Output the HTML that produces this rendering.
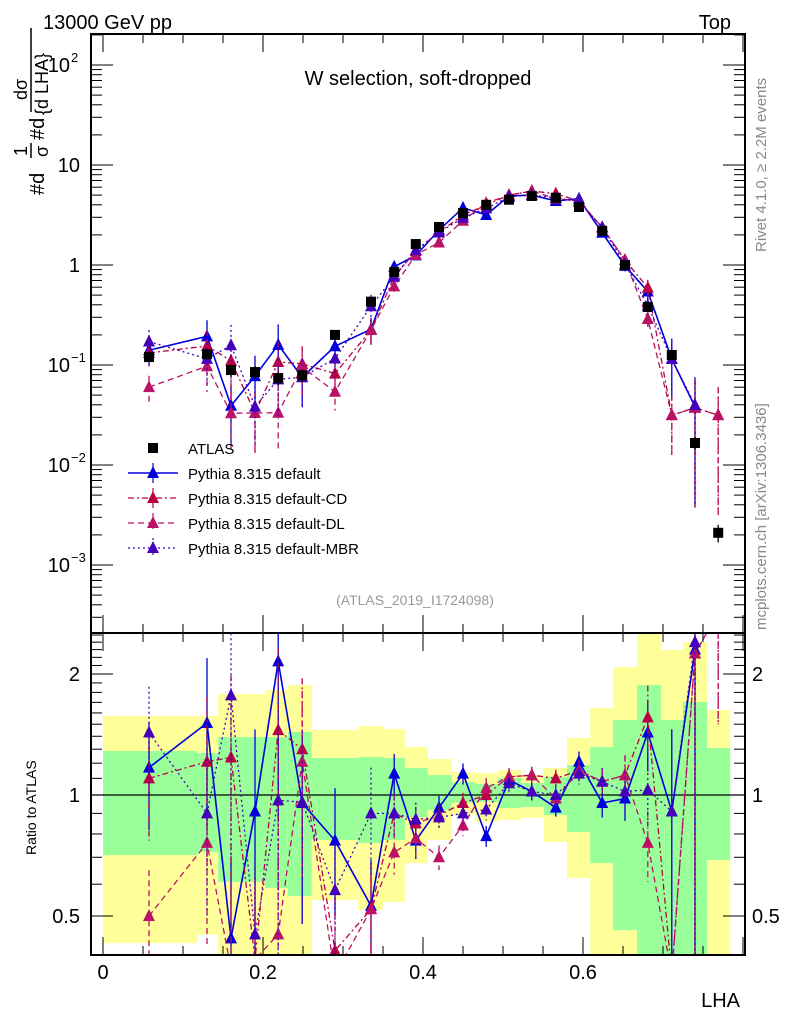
<!DOCTYPE html>
<html><head><meta charset="utf-8"><style>
html,body{margin:0;padding:0;background:#fff;width:786px;height:1024px;overflow:hidden}
svg{display:block;font-family:"Liberation Sans",sans-serif}
</style></head><body>
<svg id="chart" width="786" height="1024" viewBox="0 0 786 1024">
<g id="bands"></g>
<g id="ratio"></g>
<g id="main"></g>
<g id="axes"></g>
<text x="43" y="29" font-size="20">13000 GeV pp</text>
<text x="731" y="29" font-size="20" text-anchor="end">Top</text>
<text x="418" y="85" font-size="20" text-anchor="middle">W selection, soft-dropped</text>
<text x="415" y="605" font-size="14" fill="#999" text-anchor="middle">(ATLAS_2019_I1724098)</text>
<text transform="translate(766,252) rotate(-90)" font-size="15" fill="#888">Rivet 4.1.0, ≥ 2.2M events</text>
<text transform="translate(766,630) rotate(-90)" font-size="15" fill="#888">mcplots.cern.ch [arXiv:1306.3436]</text>
<g font-size="20">
<text transform="translate(44,195) rotate(-90)">#d</text>
<text transform="translate(27,156) rotate(-90)" font-size="18">1</text>
<line x1="31" y1="158" x2="31" y2="143" stroke="#000" stroke-width="1.5"/>
<text transform="translate(48,157) rotate(-90)" font-size="18">σ</text>
<text transform="translate(44,140) rotate(-90)">#d</text>
<text transform="translate(27,100) rotate(-90)" font-size="18">dσ</text>
<line x1="31" y1="112" x2="31" y2="28" stroke="#000" stroke-width="1.5"/>
<text transform="translate(48,115) rotate(-90)" font-size="18">{d LHA}</text>
</g>
<text transform="translate(36,855) rotate(-90)" font-size="14">Ratio to ATLAS</text>
<text x="740" y="1007" font-size="20" text-anchor="end">LHA</text>
<g id="legend"></g>
</svg>
<script>
const lha = [0.0575,0.13,0.16,0.19,0.219,0.249,0.29,0.335,0.364,0.391,0.42,0.45,0.479,0.5075,0.536,0.566,0.595,0.624,0.6525,0.681,0.711,0.74,0.769];
const atlas = [0.12,0.128,0.089,0.085,0.074,0.079,0.2,0.43,0.85,1.62,2.4,3.3,4.0,4.5,4.9,4.7,3.8,2.2,1.0,0.38,0.126,0.0166,0.0021];
const ratioDefault = [1.17,1.51,0.44,0.91,2.15,0.955,0.77,0.53,1.13,0.77,0.93,1.13,0.79,1.09,1.02,0.93,1.21,0.955,0.98,1.43,0.91,2.3,null];
const ratioCD = [1.10,1.21,1.24,0.39,1.45,1.3,0.41,0.52,0.9,0.85,0.89,0.955,1.0,1.11,1.12,1.1,1.15,1.08,1.12,1.56,0.25,2.25,15];
const ratioDL = [0.5,0.76,0.37,0.39,0.45,1.21,0.27,0.52,0.72,0.78,0.70,0.84,1.04,1.11,1.12,0.98,1.15,1.08,1.12,0.76,0.25,2.25,15];
const ratioMBR = [1.43,0.90,1.77,0.45,0.97,0.96,0.58,0.90,0.9,0.87,0.88,0.9,0.92,1.07,1.02,1.0,1.13,1.08,1.02,1.03,0.91,2.4,null];
const relErrMC = [0.3,0.45,0.6,0.6,0.6,0.5,0.35,0.3,0.12,0.1,0.07,0.06,0.06,0.05,0.05,0.05,0.06,0.08,0.12,0.2,0.6,0.9,0.9];
const atlasErr = [0.1,0.1,0.15,0.15,0.15,0.15,0.08,0.06,0.05,0.04,0.03,0.03,0.03,0.02,0.02,0.02,0.03,0.04,0.05,0.07,0.1,0.15,0.2];
const binEdges = [0,0.1175,0.144,0.2025,0.231,0.261,0.319,0.35,0.3775,0.406,0.436,0.465,0.494,0.5225,0.551,0.58,0.609,0.6375,0.6675,0.6975,0.725,0.755,0.784];
const yellowHi = [1.572,1.572,1.783,1.824,1.877,1.451,1.484,1.459,1.316,1.229,1.141,1.134,1.154,1.121,1.167,1.386,1.646,2.08,2.52,2.295,2.402,1.627];
const greenHi = [1.287,1.272,1.394,1.394,1.435,1.236,1.243,1.236,1.167,1.121,1.077,1.065,1.102,1.071,1.109,1.187,1.316,1.537,1.877,1.537,1.704,1.309];
const greenLo = [0.709,0.721,0.608,0.587,0.561,0.773,0.760,0.773,0.882,0.918,0.955,0.961,0.928,0.934,0.892,0.809,0.677,0.461,0.4,0.4,0.4,0.689];
const yellowLo = [0.428,0.449,0.4,0.4,0.4,0.548,0.518,0.542,0.677,0.773,0.892,0.857,0.867,0.877,0.764,0.622,0.4,0.4,0.4,0.4,0.4,0.4];
const xTicks = [0,0.2,0.4,0.6];
const xTickLabels = ["0","0.2","0.4","0.6"];
const ratioTicks = [0.5,1,2];
const ratioTickLabels = ["0.5","1","2"];

const NS="http://www.w3.org/2000/svg";
const L=91,R=745,T=34,MB=633,B=955;
const xs=v=>103+800*v;
const ymRaw=v=>265-100*Math.log10(v);
const yrRaw=v=>795-402*Math.log10(v);
const clamp=(y,a,b)=>Math.min(b,Math.max(a,y));
const ym=v=>clamp(ymRaw(v),T-20,MB+20);
const yr=v=>clamp(yrRaw(v),MB-20,B+20);
function mk(tag,attrs,parent){const e=document.createElementNS(NS,tag);for(const k in attrs)e.setAttribute(k,attrs[k]);parent.appendChild(e);return e;}
const bands=document.getElementById('bands'),ratioG=document.getElementById('ratio'),mainG=document.getElementById('main'),axes=document.getElementById('axes'),leg=document.getElementById('legend');
const clipD=mk('defs',{},document.getElementById('chart'));
const c1=mk('clipPath',{id:'cm'},clipD);mk('rect',{x:L,y:T,width:R-L,height:MB-T},c1);
const c2=mk('clipPath',{id:'cr'},clipD);mk('rect',{x:L,y:MB,width:R-L,height:B-MB},c2);
bands.setAttribute('clip-path','url(#cr)');ratioG.setAttribute('clip-path','url(#cr)');mainG.setAttribute('clip-path','url(#cm)');
for(let i=0;i<yellowHi.length;i++){
  const x0=xs(binEdges[i]),w=xs(binEdges[i+1])-x0;
  const yb=mk('rect',{x:x0,y:yr(yellowHi[i]),width:w,height:yr(yellowLo[i])-yr(yellowHi[i]),fill:'#ffff99'},bands);
  
  
  const gb=mk('rect',{x:x0,y:yr(greenHi[i]),width:w,height:yr(greenLo[i])-yr(greenHi[i]),fill:'#99ff99'},bands);
  
  
}
mk('line',{x1:L,x2:R,y1:795,y2:795,stroke:'#000','stroke-width':1.3},bands);
function tri(g,x,y,col){const p=mk('polygon',{points:`${x},${y-7} ${x-6},${y+5} ${x+6},${y+5}`,fill:col},g);return p;}
const series=[
 {name:'default',r:ratioDefault,col:'#0000dd',dash:'',w:1.6},
 {name:'default-cd',r:ratioCD,col:'#bb0044',dash:'6,3,2,3',w:1.3},
 {name:'default-dl',r:ratioDL,col:'#bb1166',dash:'6,4',w:1.3},
 {name:'default-mbr',r:ratioMBR,col:'#4400bb',dash:'2,3',w:1.3}];
series.forEach(s=>{
  for(const [g,yf,isR] of [[ratioG,yr,true],[mainG,ym,false]]){
    const grp=mk('g',{},g);
    
    
    let d='';
    lha.forEach((x,i)=>{if(s.r[i]==null)return;const v=isR?s.r[i]:s.r[i]*atlas[i];const px=xs(x),py=yf(v);d+=(d?'L':'M')+px+','+py;});
    mk('path',{d:d,fill:'none',stroke:s.col,'stroke-width':s.w,'stroke-dasharray':s.dash},grp);
    lha.forEach((x,i)=>{if(s.r[i]==null)return;const v=isR?s.r[i]:s.r[i]*atlas[i];const px=xs(x);const e=relErrMC[i];
      mk('line',{x1:px,x2:px,y1:yf(v*(1+e)),y2:yf(Math.max(v*(1-e),1e-6)),stroke:s.col,'stroke-width':1.3,'stroke-dasharray':s.dash},grp);
      const m=tri(grp,px,yf(v),s.col);
      
      });
  }
});
const ag=mk('g',{},mainG);


lha.forEach((x,i)=>{const px=xs(x),v=atlas[i];
  mk('line',{x1:px,x2:px,y1:ym(v*(1+atlasErr[i])),y2:ym(v*(1-atlasErr[i])),stroke:'#000','stroke-width':1.3},ag);
  const r=mk('rect',{x:px-5,y:ym(v)-5,width:10,height:10,fill:'#000'},ag);
  
  });
mk('rect',{x:L,y:T,width:R-L,height:MB-T,fill:'none',stroke:'#000','stroke-width':2},axes);
mk('rect',{x:L,y:MB,width:R-L,height:B-MB,fill:'none',stroke:'#000','stroke-width':2},axes);
for(let v=0;v<=0.81;v+=0.05){const px=xs(v);if(px>R)break;const maj=Math.abs(v/0.2-Math.round(v/0.2))<1e-6;const len=maj?18:9;
  mk('line',{x1:px,x2:px,y1:B,y2:B-len,stroke:'#000'},axes);mk('line',{x1:px,x2:px,y1:MB,y2:MB-len,stroke:'#000'},axes);
  mk('line',{x1:px,x2:px,y1:MB,y2:MB+len,stroke:'#000'},axes);mk('line',{x1:px,x2:px,y1:T,y2:T+len,stroke:'#000'},axes);}
xTicks.forEach((v,i)=>{const t=mk('text',{x:xs(v),y:979,'font-size':20,'text-anchor':'middle'},axes);t.textContent=xTickLabels[i];
  
  });
for(let e=-4;e<=2;e++){for(let m=1;m<10;m++){const v=m*Math.pow(10,e);const py=ymRaw(v);if(py<T||py>MB)continue;const len=m==1?22:11;
  mk('line',{x1:L,x2:L+len,y1:py,y2:py,stroke:'#000'},axes);mk('line',{x1:R,x2:R-len,y1:py,y2:py,stroke:'#000'},axes);}}
const mainLabels=[[100,'10','2'],[10,'10',''],[1,'1',''],[0.1,'10','−1'],[0.01,'10','−2'],[0.001,'10','−3']];
mainLabels.forEach(([v,b,s])=>{const t=mk('text',{x:s?70:80,y:ymRaw(v)+7,'font-size':20,'text-anchor':'end'},axes);t.textContent=b;
  
  
  if(s){const sp=mk('text',{x:71,y:ymRaw(v)-3,'font-size':13},axes);sp.textContent=s;}});
for(let v=0.4;v<=2.55;v+=0.1){const py=yrRaw(v);if(py<MB||py>B)continue;const maj=[0.5,1,2].some(q=>Math.abs(q-v)<1e-6);const len=maj?22:11;
  mk('line',{x1:L,x2:L+len,y1:py,y2:py,stroke:'#000'},axes);mk('line',{x1:R,x2:R-len,y1:py,y2:py,stroke:'#000'},axes);}
ratioTicks.forEach((v,i)=>{const t=mk('text',{x:80,y:yrRaw(v)+7,'font-size':20,'text-anchor':'end'},axes);t.textContent=ratioTickLabels[i];
  
  
  const t2=mk('text',{x:752,y:yrRaw(v)+7,'font-size':20},axes);t2.textContent=ratioTickLabels[i];
  
  });
const legItems=[['ATLAS',null],['Pythia 8.315 default',series[0]],['Pythia 8.315 default-CD',series[1]],['Pythia 8.315 default-DL',series[2]],['Pythia 8.315 default-MBR',series[3]]];
legItems.forEach(([lab,s],i)=>{const y=448+25*i;const g=mk('g',{},leg);
  
  
  if(!s){mk('rect',{x:148,y:y-5,width:10,height:10,fill:'#000'},g);}
  else{mk('line',{x1:128,x2:178,y1:y,y2:y,stroke:s.col,'stroke-width':s.w,'stroke-dasharray':s.dash},g);
    mk('line',{x1:153,x2:153,y1:y-10,y2:y+10,stroke:s.col,'stroke-width':1.2,'stroke-dasharray':s.dash},g);tri(g,153,y,s.col);}
  const t=mk('text',{x:188,y:y+6,'font-size':15},g);t.textContent=lab;});
</script>
</body></html>
